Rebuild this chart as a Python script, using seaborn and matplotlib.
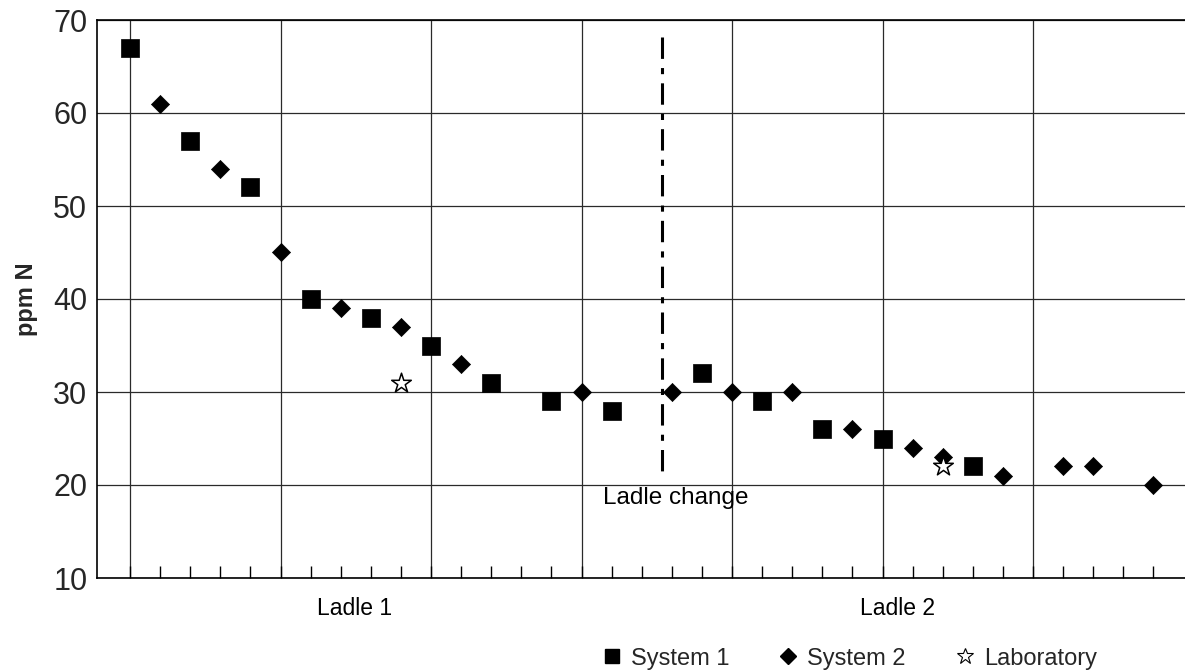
import numpy as np
import pandas as pd
import matplotlib
matplotlib.use("Agg")
import matplotlib.pyplot as plt
import seaborn as sns
from matplotlib.lines import Line2D
from matplotlib.transforms import blended_transform_factory

# ---- data (sample index along the sequence, ppm N) ----
sys1_idx = [0, 2, 4, 6, 8, 10, 12, 14, 16, 19, 21, 23, 25, 28]
sys1_ppm = [67, 57, 52, 40, 38, 35, 31, 29, 28, 32, 29, 26, 25, 22]

sys2_idx = [1, 3, 5, 7, 9, 11, 15, 18, 20, 22, 24, 26, 27, 29, 31, 32, 34]
sys2_ppm = [61, 54, 45, 39, 37, 33, 30, 30, 30, 30, 26, 24, 23, 21, 22, 22, 20]

lab_idx = [9, 27]
lab_ppm = [31, 22]

category_labels = ["Ladle 1", "Ladle 2"]
series_names = ["System 1", "System 2", "Laboratory"]
y_ticks = [10, 20, 30, 40, 50, 60, 70]

# ---- layout constants ----
LADLE_CHANGE_X = 17.67
CATEGORY_X = [7.47, 25.5]

sns.set_theme(style="white")
plt.rcParams["font.family"] = ["Liberation Sans", "DejaVu Sans"]

fig = plt.figure(figsize=(11.85, 6.72), dpi=100)
ax = fig.add_axes([97 / 1185, 1 - 578 / 672, 1 - 97 / 1185, (578 - 20) / 672])

df1 = pd.DataFrame({"idx": sys1_idx, "ppm": sys1_ppm})
df2 = pd.DataFrame({"idx": sys2_idx, "ppm": sys2_ppm})
df3 = pd.DataFrame({"idx": lab_idx, "ppm": lab_ppm})

sns.scatterplot(data=df1, x="idx", y="ppm", marker="s", s=150, color="black",
                edgecolor="black", linewidth=0.5, ax=ax, zorder=5, legend=False)
sns.scatterplot(data=df2, x="idx", y="ppm", marker="D", s=85, color="black",
                edgecolor="black", linewidth=0.5, ax=ax, zorder=5, legend=False)
sns.scatterplot(data=df3, x="idx", y="ppm", marker="*", s=220, facecolor="white",
                edgecolor="black", linewidth=1.1, ax=ax, zorder=6, legend=False)

ax.set_xlim(-1.1, 35.05)
ax.set_ylim(10, 70)
ax.set_yticks(y_ticks)
ax.set_yticklabels([str(v) for v in y_ticks], fontsize=22)
ax.set_xticks(np.arange(0, 35, 5))
ax.set_xticks(np.arange(0, 35, 1), minor=True)
ax.set_xticklabels([])
ax.tick_params(axis="x", which="both", direction="in", length=9, width=1,
               color="black", bottom=True)
ax.tick_params(axis="y", which="both", length=0, pad=7)

ax.grid(True, which="major", axis="both", color="#2a2a2a", linewidth=0.9)
ax.set_axisbelow(True)

for side in ["left", "bottom", "top"]:
    ax.spines[side].set_visible(True)
    ax.spines[side].set_color("black")
    ax.spines[side].set_linewidth(1.2)
ax.spines["right"].set_visible(False)

ax.set_xlabel("")
ax.set_ylabel("ppm N", fontsize=17, fontweight="bold", labelpad=11)

# ladle change marker line
ax.plot([LADLE_CHANGE_X, LADLE_CHANGE_X], [68.2, 21.5], color="black",
        linewidth=2.2, dashes=(7, 3, 2, 3), zorder=4)
ax.text(15.72, 18.6, "Ladle change", fontsize=17.5, ha="left", va="center",
        color="black")

trans = blended_transform_factory(ax.transData, ax.transAxes)
for x, lab in zip(CATEGORY_X, category_labels):
    ax.text(x, -0.055, lab, transform=trans, ha="center", va="center",
            fontsize=16.5, color="black")

handles = [
    Line2D([], [], linestyle="none", marker="s", markersize=10,
           markerfacecolor="black", markeredgecolor="black"),
    Line2D([], [], linestyle="none", marker="D", markersize=8,
           markerfacecolor="black", markeredgecolor="black"),
    Line2D([], [], linestyle="none", marker="*", markersize=12,
           markerfacecolor="white", markeredgecolor="black", markeredgewidth=0.8),
]
fig.legend(handles, series_names, loc="center", bbox_to_anchor=(0.716, 0.02),
           ncol=3, frameon=False, fontsize=17, handletextpad=0.3,
           columnspacing=2.0, handlelength=1.0)

fig.savefig("out.png", dpi=100)
